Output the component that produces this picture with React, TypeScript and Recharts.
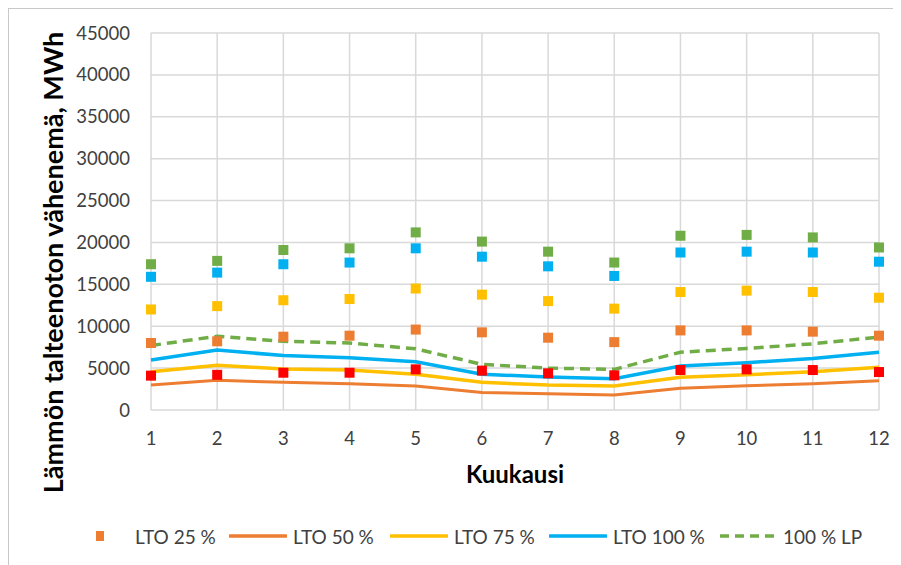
import React from "react";
import { LineChart, Line, XAxis, YAxis, CartesianGrid, Legend } from "recharts";

const months = ["1", "2", "3", "4", "5", "6", "7", "8", "9", "10", "11", "12"];
const lto25 = [8000, 8200, 8750, 8870, 9600, 9270, 8630, 8100, 9500, 9500, 9350, 8870];
const lto50 = [2980, 3540, 3300, 3140, 2860, 2100, 1950, 1800, 2600, 2900, 3140, 3500];
const lto75 = [4570, 5330, 4900, 4770, 4260, 3300, 2980, 2860, 3900, 4200, 4570, 5100];
const lto100 = [5970, 7150, 6500, 6250, 5770, 4260, 3940, 3740, 5250, 5650, 6150, 6880];
const lp100 = [7700, 8800, 8200, 8000, 7300, 5450, 5000, 4850, 6900, 7350, 7900, 8700];
const yellowSq = [12000, 12400, 13100, 13250, 14500, 13770, 13000, 12100, 14080, 14250, 14080, 13400];
const blueSq = [15900, 16400, 17400, 17600, 19300, 18300, 17150, 16000, 18800, 18900, 18800, 17700];
const greenSq = [17400, 17800, 19100, 19300, 21200, 20100, 18900, 17600, 20800, 20900, 20600, 19400];
const redSq = [4100, 4200, 4450, 4450, 4850, 4700, 4380, 4140, 4770, 4850, 4770, 4530];
const yTicks = [0, 5000, 10000, 15000, 20000, 25000, 30000, 35000, 40000, 45000];

const legendNames = ["LTO 25 %", "LTO 50 %", "LTO 75 %", "LTO 100 %", "100 % LP"];
const legendColors = ["#ED7D31", "#ED7D31", "#FFC000", "#00B0F0", "#70AD47"];
const legendKinds = ["marker", "line", "line", "line", "dash"];
const legendWidths = [158, 161, 159, 170, 141];

const data = months.map((m, i) => ({
  month: m,
  lto25: lto25[i],
  lto50: lto50[i],
  lto75: lto75[i],
  lto100: lto100[i],
  lp100: lp100[i],
  yellowSq: yellowSq[i],
  blueSq: blueSq[i],
  greenSq: greenSq[i],
  redSq: redSq[i],
}));

const FONT = "Lato, 'Open Sans', sans-serif";

const square = (color: string) => (props: any) => {
  const { cx, cy, index } = props;
  if (cx == null || cy == null) return <g key={index} />;
  return <rect key={index} x={cx - 5} y={cy - 5} width={10} height={10} fill={color} />;
};

const LegendContent = () => (
  <div style={{ display: "flex", alignItems: "center", paddingLeft: 63, fontFamily: FONT, fontSize: 19, color: "#404040" }}>
    {legendNames.map((name, i) => (
      <div key={name} style={{ width: legendWidths[i], display: "flex", alignItems: "center", whiteSpace: "nowrap" }}>
        <svg width={58} height={24} style={{ marginRight: 6, flex: "none" }}>
          {legendKinds[i] === "marker" && <rect x={25} y={7} width={8} height={10} fill={legendColors[i]} />}
          {legendKinds[i] === "line" && <line x1={1} x2={57} y1={12} y2={12} stroke={legendColors[i]} strokeWidth={3.5} strokeLinecap="round" />}
          {legendKinds[i] === "dash" && <line x1={1} x2={57} y1={12} y2={12} stroke={legendColors[i]} strokeWidth={3.5} strokeDasharray="9 6" />}
        </svg>
        <span>{name}</span>
      </div>
    ))}
  </div>
);

export default function App() {
  return (
    <div style={{ position: "relative", width: 893, height: 557 }}>
      <style>{"html,body{overflow:hidden}"}</style>
      <LineChart width={893} height={557} data={data} margin={{ top: 25, right: 22, bottom: 125, left: 63 }}>
        <CartesianGrid stroke="#d9d9d9" strokeWidth={1.5} />
        <XAxis
          dataKey="month"
          tickLine={false}
          axisLine={false}
          tickSize={0}
          tickMargin={22}
          interval={0}
          padding={{ left: 0, right: 0 }}
          tick={{ fill: "#404040", fontSize: 18.5, fontFamily: FONT }}
          label={{
            content: (p: any) => (
              <text x={p.viewBox.x + p.viewBox.width / 2} y={p.viewBox.y + 73} textAnchor="middle" fill="#000" fontSize={24} fontWeight="bold" fontFamily={FONT}>
                Kuukausi
              </text>
            ),
          }}
        />
        <YAxis
          width={80}
          domain={[0, 45000]}
          ticks={yTicks}
          interval={0}
          tickLine={false}
          axisLine={false}
          tickSize={0}
          tickMargin={21}
          tick={{ fill: "#404040", fontSize: 18.5, fontFamily: FONT }}
          label={{
            content: (p: any) => {
              const cx = p.viewBox.x - 19;
              const cy = p.viewBox.y + p.viewBox.height / 2 + 41;
              return (
                <text x={cx} y={cy} transform={`rotate(-90 ${cx} ${cy})`} textAnchor="middle" dominantBaseline="central" fill="#000" fontSize={27} fontWeight="bold" fontFamily={FONT}>
                  Lämmön talteenoton vähenemä, MWh
                </text>
              );
            },
          }}
        />
        <Legend verticalAlign="middle" layout="horizontal" content={<LegendContent />} wrapperStyle={{ top: 516, left: 0, width: 893, height: 24 }} />
        <Line dataKey="lto50" stroke="#ED7D31" strokeWidth={3} dot={false} activeDot={false} isAnimationActive={false} />
        <Line dataKey="lto75" stroke="#FFC000" strokeWidth={3.5} dot={false} activeDot={false} isAnimationActive={false} />
        <Line dataKey="lto100" stroke="#00B0F0" strokeWidth={3.5} dot={false} activeDot={false} isAnimationActive={false} />
        <Line dataKey="lp100" stroke="#70AD47" strokeWidth={3.5} strokeDasharray="10 6" dot={false} activeDot={false} isAnimationActive={false} />
        <Line dataKey="lto25" stroke="none" strokeWidth={0} dot={square("#ED7D31")} activeDot={false} isAnimationActive={false} />
        <Line dataKey="yellowSq" stroke="none" strokeWidth={0} dot={square("#FFC000")} activeDot={false} legendType="none" isAnimationActive={false} />
        <Line dataKey="blueSq" stroke="none" strokeWidth={0} dot={square("#00B0F0")} activeDot={false} legendType="none" isAnimationActive={false} />
        <Line dataKey="greenSq" stroke="none" strokeWidth={0} dot={square("#70AD47")} activeDot={false} legendType="none" isAnimationActive={false} />
        <Line dataKey="redSq" stroke="none" strokeWidth={0} dot={square("#FF0000")} activeDot={false} legendType="none" isAnimationActive={false} />
      </LineChart>
      <div style={{ position: "absolute", left: 0, top: 0, width: 893, height: 557, borderTop: "1.5px solid #c8c8c8", borderLeft: "1.5px solid #c8c8c8", boxSizing: "border-box", pointerEvents: "none" }} />
    </div>
  );
}
